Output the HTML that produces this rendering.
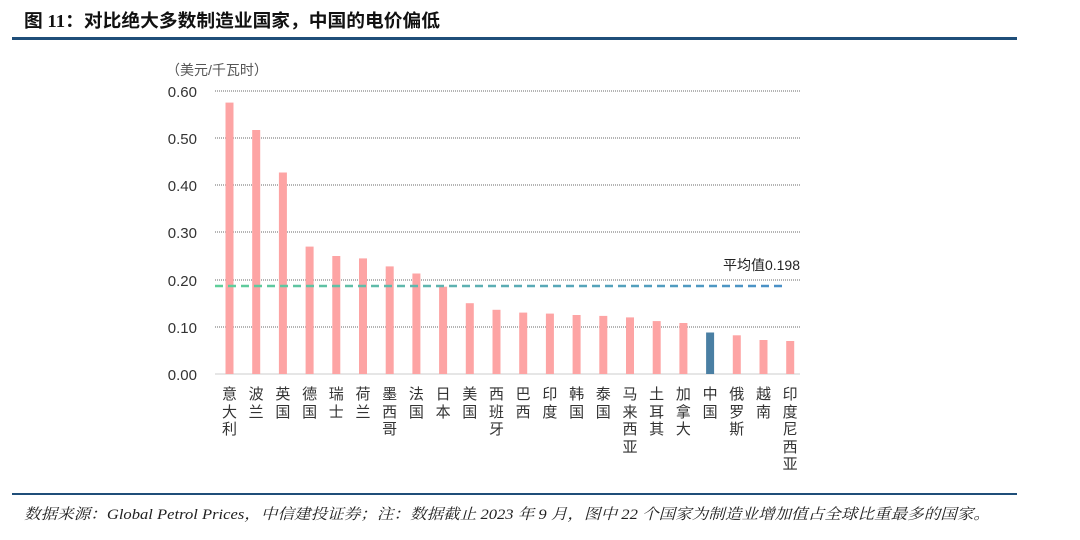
<!DOCTYPE html>
<html><head><meta charset="utf-8"><style>
body{margin:0;width:1080px;height:540px;background:#fff;overflow:hidden;font-family:"Liberation Sans","Noto Sans CJK SC",sans-serif;position:relative;}
.l{position:absolute;top:386px;width:16px;font-size:15px;line-height:17.5px;color:#333;text-align:center;word-break:break-all;}
</style></head><body>
<svg width="1080" height="540" xmlns="http://www.w3.org/2000/svg" font-family="Liberation Sans, Noto Sans CJK SC, sans-serif" style="position:absolute;left:0;top:0">
<text x="24" y="27" font-size="18" font-weight="bold" fill="#111" font-family="Liberation Serif, Noto Sans CJK SC, sans-serif" textLength="416" lengthAdjust="spacingAndGlyphs">图 11：对比绝大多数制造业国家，中国的电价偏低</text>
<rect x="12" y="37" width="1005" height="3" fill="#1f4e79"/>
<text x="166" y="75" font-size="14" fill="#555">（美元/千瓦时）</text>
<g font-size="15" fill="#333" text-anchor="end">
<text x="197" y="97">0.60</text><text x="197" y="144">0.50</text><text x="197" y="191">0.40</text>
<text x="197" y="238">0.30</text><text x="197" y="286">0.20</text><text x="197" y="333">0.10</text><text x="197" y="380">0.00</text>
</g>
<g stroke="#888" stroke-width="1.2" stroke-dasharray="1 1">
<line x1="215" y1="91" x2="800" y2="91"/><line x1="215" y1="138" x2="800" y2="138"/>
<line x1="215" y1="185" x2="800" y2="185"/><line x1="215" y1="232" x2="800" y2="232"/>
<line x1="215" y1="280" x2="800" y2="280"/><line x1="215" y1="327" x2="800" y2="327"/>
</g>
<line x1="215" y1="374" x2="800" y2="374" stroke="#ccc" stroke-width="1"/>
<defs><linearGradient id="g" gradientUnits="userSpaceOnUse" x1="215" y1="0" x2="787" y2="0"><stop offset="0" stop-color="#5fcf9a"/><stop offset="0.4" stop-color="#5fb3b0"/><stop offset="1" stop-color="#4a90c8"/></linearGradient></defs>
<g fill="#fda4a4">
<rect x="225.5" y="102.6" width="8" height="271.4"/>
<rect x="252.2" y="130.0" width="8" height="244.0"/>
<rect x="278.9" y="172.5" width="8" height="201.5"/>
<rect x="305.6" y="246.6" width="8" height="127.4"/>
<rect x="332.3" y="256.0" width="8" height="118.0"/>
<rect x="359.0" y="258.4" width="8" height="115.6"/>
<rect x="385.7" y="266.4" width="8" height="107.6"/>
<rect x="412.4" y="273.5" width="8" height="100.5"/>
<rect x="439.1" y="286.7" width="8" height="87.3"/>
<rect x="465.8" y="303.2" width="8" height="70.8"/>
<rect x="492.5" y="309.8" width="8" height="64.2"/>
<rect x="519.2" y="312.6" width="8" height="61.4"/>
<rect x="545.9" y="313.6" width="8" height="60.4"/>
<rect x="572.6" y="315.0" width="8" height="59.0"/>
<rect x="599.3" y="315.9" width="8" height="58.1"/>
<rect x="626.0" y="317.4" width="8" height="56.6"/>
<rect x="652.7" y="321.1" width="8" height="52.9"/>
<rect x="679.4" y="323.0" width="8" height="51.0"/>
<rect x="706.1" y="332.5" width="8" height="41.5" fill="#4a7fa3"/>
<rect x="732.8" y="335.3" width="8" height="38.7"/>
<rect x="759.5" y="340.0" width="8" height="34.0"/>
<rect x="786.2" y="341.0" width="8" height="33.0"/>
</g>
<line x1="215" y1="286" x2="787" y2="286" stroke="url(#g)" stroke-width="2.5" stroke-dasharray="8 5"/>
<text x="800" y="270" font-size="14" fill="#222" text-anchor="end">平均值0.198</text>
<rect x="12" y="493" width="1005" height="2" fill="#1f4e79"/>
<text x="24" y="519" font-size="15" font-style="italic" fill="#222" font-family="Liberation Serif, Noto Serif CJK SC, serif" textLength="966" lengthAdjust="spacingAndGlyphs">数据来源：Global Petrol Prices，中信建投证券；注：数据截止 2023 年 9 月，图中 22 个国家为制造业增加值占全球比重最多的国家。</text>
</svg>
<div class="l" style="left:221.5px">意大利</div>
<div class="l" style="left:248.2px">波兰</div>
<div class="l" style="left:274.9px">英国</div>
<div class="l" style="left:301.6px">德国</div>
<div class="l" style="left:328.3px">瑞士</div>
<div class="l" style="left:355px">荷兰</div>
<div class="l" style="left:381.7px">墨西哥</div>
<div class="l" style="left:408.4px">法国</div>
<div class="l" style="left:435.1px">日本</div>
<div class="l" style="left:461.8px">美国</div>
<div class="l" style="left:488.5px">西班牙</div>
<div class="l" style="left:515.2px">巴西</div>
<div class="l" style="left:541.9px">印度</div>
<div class="l" style="left:568.6px">韩国</div>
<div class="l" style="left:595.3px">泰国</div>
<div class="l" style="left:622px">马来西亚</div>
<div class="l" style="left:648.7px">土耳其</div>
<div class="l" style="left:675.4px">加拿大</div>
<div class="l" style="left:702.1px">中国</div>
<div class="l" style="left:728.8px">俄罗斯</div>
<div class="l" style="left:755.5px">越南</div>
<div class="l" style="left:782.2px">印度尼西亚</div>
</body></html>
